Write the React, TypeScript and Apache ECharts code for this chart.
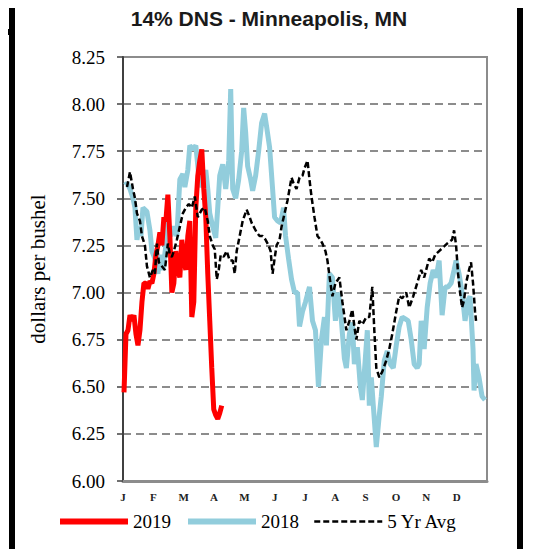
import React, { useEffect, useRef } from "react";
import * as echarts from "echarts";

const monthLabels = ["J", "F", "M", "A", "M", "J", "J", "A", "S", "O", "N", "D"];
const yTicks = [6, 8.25, 0.25];

const days2019 = [1, 3, 5, 7, 9, 11, 13, 15, 17, 19, 21, 23, 25, 27, 29, 31, 33, 35, 37, 39, 41, 43, 45, 47, 49, 51, 53, 55, 57, 59, 61, 63, 65, 67, 69, 71, 73, 75, 77, 79, 81, 83, 85, 87, 89, 91, 93, 95, 97, 99];
const vals2019 = [6.47, 6.78, 6.8, 6.88, 6.85, 6.88, 6.78, 6.72, 6.8, 6.95, 7.05, 7.05, 7.02, 7.06, 7.05, 7.1, 7.2, 7.25, 7.32, 7.25, 7.4, 7.38, 7.52, 7.3, 7.0, 7.05, 7.22, 7.12, 7.08, 7.28, 7.18, 7.12, 7.3, 7.38, 6.87, 6.95, 7.45, 7.62, 7.7, 7.76, 7.55, 7.4, 7.1, 6.85, 6.6, 6.38, 6.35, 6.33, 6.36, 6.4];

const days2018 = [2, 4, 7, 10, 12, 14, 16, 18, 20, 24, 27, 29, 32, 35, 37, 40, 43, 45, 48, 51, 54, 57, 60, 62, 65, 67, 70, 73, 76, 78, 81, 83, 85, 87, 90, 93, 95, 97, 100, 103, 106, 108, 110, 113, 116, 119, 121, 123, 125, 128, 130, 133, 136, 139, 142, 144, 147, 150, 152, 155, 158, 161, 163, 166, 169, 172, 175, 177, 180, 183, 187, 190, 193, 196, 199, 202, 204, 207, 210, 213, 216, 219, 222, 224, 227, 230, 232, 235, 238, 240, 243, 245, 247, 249, 251, 254, 257, 259, 262, 265, 268, 271, 274, 277, 280, 283, 286, 289, 292, 295, 297, 299, 302, 305, 308, 311, 314, 317, 320, 323, 326, 329, 332, 334, 337, 340, 343, 346, 348, 351, 352, 354, 357, 360, 363];
const vals2018 = [7.57, 7.58, 7.55, 7.5, 7.45, 7.28, 7.35, 7.3, 7.45, 7.43, 7.33, 7.22, 7.18, 7.1, 7.2, 7.12, 7.25, 7.38, 7.3, 7.35, 7.3, 7.6, 7.63, 7.56, 7.65, 7.78, 7.76, 7.78, 7.62, 7.56, 7.6, 7.65, 7.55, 7.42, 7.35, 7.29, 7.45, 7.62, 7.68, 7.55, 7.7, 8.08, 7.55, 7.5, 7.6, 7.75, 7.98, 7.85, 7.67, 7.6, 7.54, 7.62, 7.75, 7.9, 7.95, 7.88, 7.77, 7.55, 7.4, 7.38, 7.37, 7.45, 7.3, 7.18, 7.07, 7.0, 7.0, 6.82, 6.9, 6.95, 7.03, 6.85, 6.8, 6.5, 6.75, 6.87, 6.72, 7.1, 7.08, 6.85, 7.0, 6.85, 6.65, 6.6, 6.78, 6.84, 6.62, 6.71, 6.5, 6.43, 6.65, 6.8, 6.4, 6.55, 6.4, 6.18, 6.35, 6.45, 6.64, 6.69, 6.62, 6.6, 6.72, 6.82, 6.87, 6.86, 6.85, 6.75, 6.62, 6.6, 6.62, 6.85, 6.7, 6.92, 7.05, 7.12, 7.08, 7.17, 6.88, 7.03, 7.03, 7.05, 7.12, 7.17, 7.1, 7.0, 6.85, 6.96, 6.98, 6.7, 6.48, 6.62, 6.55, 6.45, 6.43];

const daysAvg = [4, 7, 10, 12, 14, 17, 19, 22, 24, 27, 30, 32, 34, 36, 39, 42, 45, 47, 49, 51, 54, 57, 60, 63, 66, 69, 72, 75, 79, 82, 85, 87, 90, 92, 94, 96, 98, 101, 104, 107, 110, 112, 114, 117, 120, 124, 127, 129, 132, 134, 137, 140, 143, 146, 148, 150, 152, 154, 157, 159, 162, 165, 167, 169, 171, 174, 177, 180, 182, 185, 187, 189, 192, 195, 198, 200, 203, 205, 208, 210, 213, 217, 220, 224, 227, 230, 232, 234, 237, 240, 244, 247, 250, 252, 254, 257, 260, 264, 267, 270, 274, 277, 280, 284, 287, 291, 295, 299, 302, 304, 307, 310, 313, 317, 321, 325, 330, 332, 334, 336, 338, 340, 342, 344, 347, 349, 351, 353, 354];
const valsAvg = [7.56, 7.64, 7.55, 7.5, 7.42, 7.38, 7.3, 7.25, 7.14, 7.08, 7.12, 7.1, 7.26, 7.16, 7.14, 7.12, 7.26, 7.2, 7.19, 7.22, 7.28, 7.35, 7.42, 7.45, 7.47, 7.45, 7.51, 7.4, 7.44, 7.45, 7.38, 7.3, 7.25, 7.23, 7.07, 7.12, 7.2, 7.19, 7.22, 7.17, 7.17, 7.1, 7.22, 7.3, 7.38, 7.44, 7.4, 7.37, 7.34, 7.32, 7.3, 7.3, 7.28, 7.25, 7.22, 7.1, 7.18, 7.25, 7.28, 7.35, 7.42, 7.49, 7.55, 7.61, 7.58, 7.55, 7.61, 7.62, 7.66, 7.7, 7.6, 7.51, 7.4, 7.3, 7.28, 7.26, 7.22, 7.17, 7.05, 6.98, 7.05, 7.08, 6.95, 6.8, 6.85, 6.91, 6.82, 6.75, 6.85, 6.83, 6.87, 6.87, 7.03, 6.8, 6.6, 6.55, 6.58, 6.64, 6.7, 6.78, 6.9, 6.98, 6.97, 7.0, 6.92, 6.98, 7.05, 7.12, 7.08, 7.12, 7.18, 7.16, 7.2, 7.22, 7.24, 7.26, 7.28, 7.33, 7.25, 7.1, 7.0, 6.92, 6.96, 7.05, 7.12, 7.16, 7.05, 6.9, 6.85];

const zip = (d: number[], v: number[]) => d.map((x, i) => [x, v[i]]);

export default function App() {
  const ref = useRef<HTMLDivElement>(null);
  useEffect(() => {
    if (!ref.current) return;
    const chart = echarts.init(ref.current, undefined, { renderer: "svg" });
    const monthStep = 365 / 12;
    chart.setOption({
      animation: false,
      backgroundColor: "#ffffff",
      title: {
        text: "14% DNS - Minneapolis, MN",
        left: 264,
        textAlign: "center",
        top: 3,
        textStyle: { fontFamily: "Liberation Sans", fontWeight: "bold", fontSize: 21, color: "#1a1a1a" },
      },
      grid: { left: 123, right: 50, top: 57, bottom: 76, show: true, borderColor: "#8c8c8c", borderWidth: 2, backgroundColor: "transparent" },
      legend: {
        left: 57,
        top: 512,
        padding: 0,
        itemWidth: 68,
        itemHeight: 1,
        itemGap: 14,
        data: [
          { name: "2019", lineStyle: { width: 6, color: "#FF0000" } },
          { name: "2018", lineStyle: { width: 6, color: "#92CDDC" } },
          { name: "5 Yr Avg", lineStyle: { width: 2.5, color: "#000", type: [6, 3] } },
        ],
        textStyle: { fontFamily: "Liberation Serif", fontSize: 19, color: "#000" },
      },
      xAxis: {
        type: "value",
        min: 0,
        max: 365,
        interval: monthStep,
        axisLine: { show: true, lineStyle: { color: "#8c8c8c", width: 3 } },
        axisTick: { show: false },
        splitLine: { show: false },
        axisLabel: {
          margin: 10,
          fontFamily: "Liberation Serif",
          fontWeight: "bold",
          fontSize: 11,
          color: "#222",
          showMaxLabel: false,
          formatter: (v: number) => {
            const i = Math.round(v / monthStep);
            return i < 12 ? monthLabels[i] : "";
          },
        },
      },
      yAxis: {
        type: "value",
        min: yTicks[0],
        max: yTicks[1],
        interval: yTicks[2],
        name: "dollars per bushel",
        nameLocation: "middle",
        nameGap: 75,
        nameRotate: 90,
        nameTextStyle: { fontFamily: "Liberation Serif", fontSize: 21, color: "#000" },
        axisLine: { show: true, lineStyle: { color: "#404040", width: 2 } },
        axisTick: { show: true, inside: false, length: 6, lineStyle: { color: "#404040", width: 1.5 } },
        splitLine: { show: true, lineStyle: { color: "#8c8c8c", width: 2, type: [8, 5] } },
        axisLabel: {
          margin: 18,
          fontFamily: "Liberation Serif",
          fontSize: 19,
          color: "#000",
          formatter: (v: number) => v.toFixed(2),
        },
      },
      series: [
        {
          name: "2018",
          type: "line",
          data: zip(days2018, vals2018),
          symbol: "none",
          lineStyle: { color: "#92CDDC", width: 5 },
          itemStyle: { color: "#92CDDC" },
          z: 2,
        },
        {
          name: "2019",
          type: "line",
          data: zip(days2019, vals2019),
          symbol: "none",
          lineStyle: { color: "#FF0000", width: 5 },
          itemStyle: { color: "#FF0000" },
          z: 3,
        },
        {
          name: "5 Yr Avg",
          type: "line",
          data: zip(daysAvg, valsAvg),
          symbol: "none",
          lineStyle: { color: "#000000", width: 2.5, type: [6, 3] },
          itemStyle: { color: "#000000" },
          z: 4,
        },
      ],
      graphic: [
        { type: "rect", left: 9, top: 0, shape: { width: 6, height: 557 }, style: { fill: "#000" }, z: 10 },
        { type: "rect", left: 517, top: 0, shape: { width: 6, height: 557 }, style: { fill: "#000" }, z: 10 },
        { type: "rect", left: 0, top: 29, shape: { width: 9, height: 6 }, style: { fill: "#000" }, z: 10 },
        { type: "rect", left: 0, top: 555, shape: { width: 517, height: 2 }, style: { fill: "#808080" }, z: 10 },
        { type: "text", left: -9, top: 4, style: { text: "o", fontFamily: "Liberation Sans", fontWeight: "bold", fontSize: 21, fill: "#000" }, z: 10 },
      ],
    });
    return () => chart.dispose();
  }, []);
  return <div ref={ref} style={{ width: 537, height: 557, margin: -8 }} />;
}
